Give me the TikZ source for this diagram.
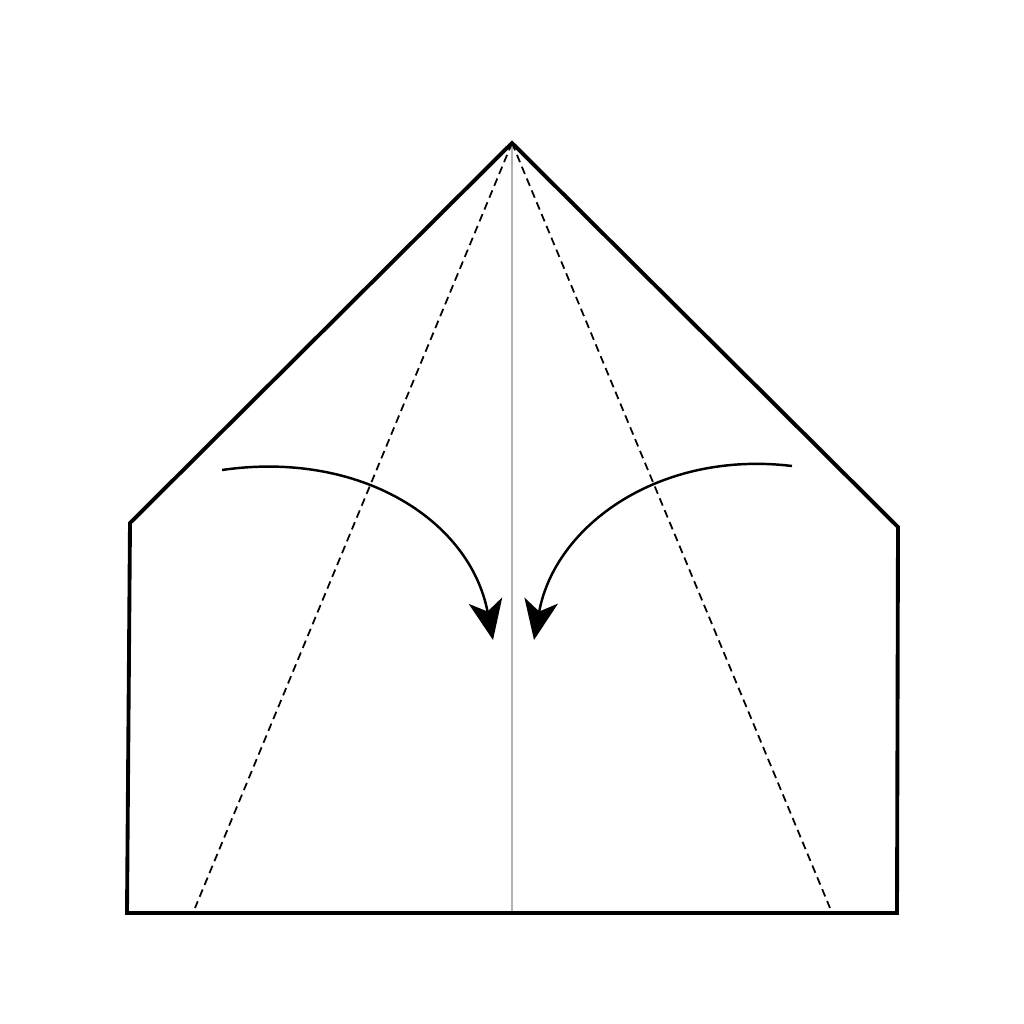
\documentclass[tikz,border=0pt]{standalone}
\usetikzlibrary{arrows.meta}

\begin{document}
\begin{tikzpicture}[x=0.02cm,y=-0.02cm,
    edge/.style={line width=2.2pt,line join=miter},
    crease/.style={line width=1pt,dash pattern=on 4.5pt off 2.8pt},
    fold/.style={line width=1.4pt,-{Stealth[length=0.8cm,width=0.68cm,inset=0.22cm]}}]
    \useasboundingbox (0,0) rectangle (1024,1024);
    \coordinate (apex) at (512,143);
    \coordinate (ls) at (130,523);
    \coordinate (lb) at (127,913);
    \coordinate (rb) at (897,913);
    \coordinate (rs) at (898,527);
    \coordinate (mid) at (512,913);

    % center crease
    \draw[gray!60,line width=0.9pt] (apex) -- (mid);
    % fold lines
    \foreach \x in {195,830} {
        \draw[crease] (apex) -- (\x,908);
    }
    % paper outline
    \draw[edge] (apex) -- (ls) -- (lb) -- (rb) -- (rs) -- cycle;

    % arrows
    \draw[fold] (222,470) .. controls (360,450) and (470,520) .. (493,640);
    \draw[fold] (792,466) .. controls (660,450) and (555,525) .. (534,640);
\end{tikzpicture}
\end{document}
